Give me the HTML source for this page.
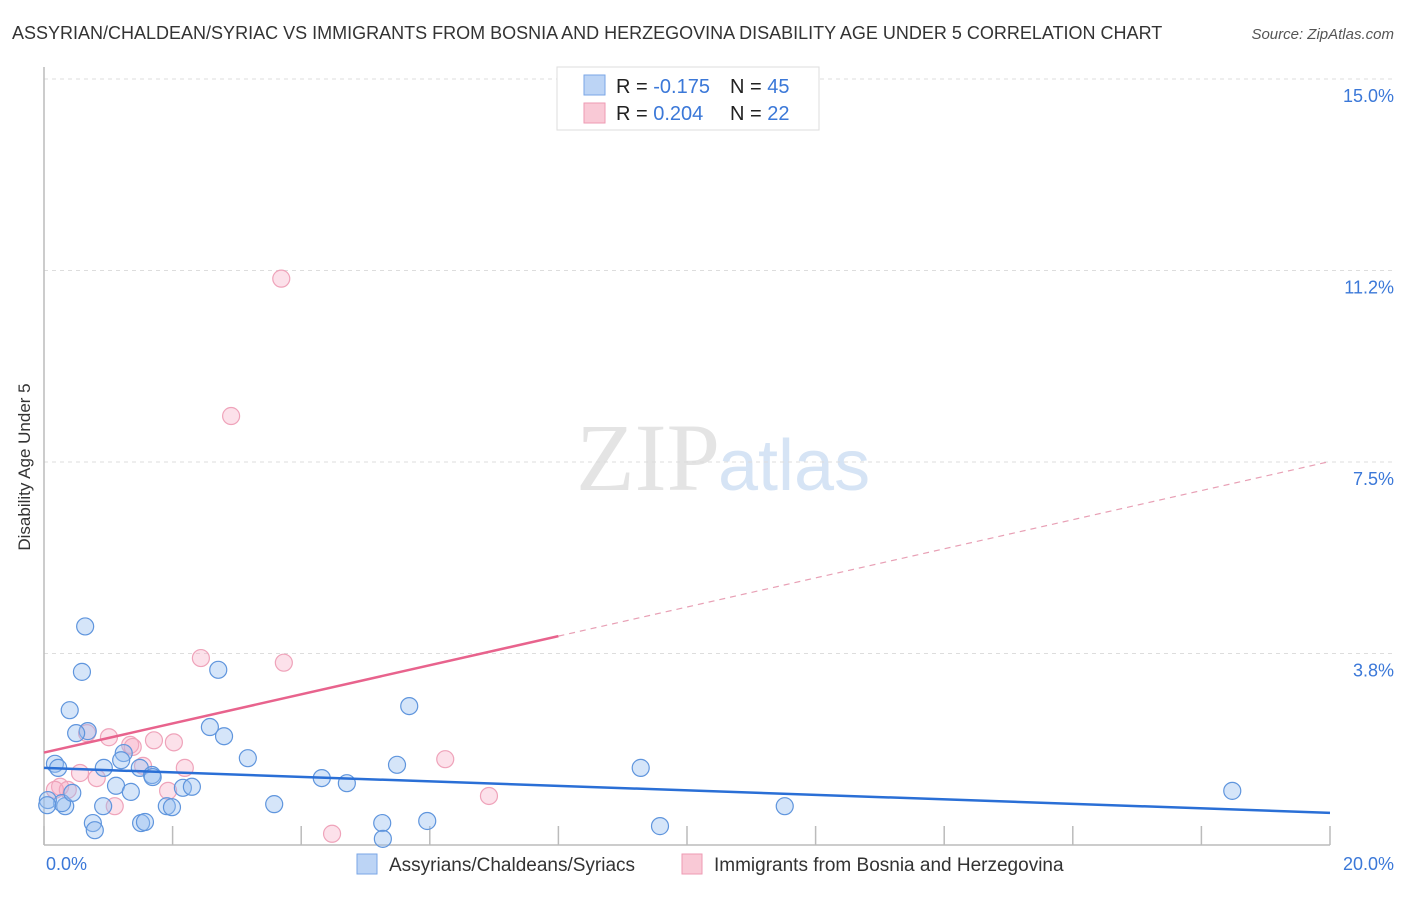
<!DOCTYPE html>
<html><head><meta charset="utf-8"><style>
body{margin:0;background:#fff;font-family:"Liberation Sans",sans-serif;}
</style></head><body>
<svg id="chart" width="1406" height="892" xmlns="http://www.w3.org/2000/svg" style="font-family:'Liberation Sans',sans-serif">
<text x="12" y="39" font-size="18" fill="#333">ASSYRIAN/CHALDEAN/SYRIAC VS IMMIGRANTS FROM BOSNIA AND HERZEGOVINA DISABILITY AGE UNDER 5 CORRELATION CHART</text>
<text x="1394" y="39" font-size="15" fill="#555" font-style="italic" text-anchor="end">Source: ZipAtlas.com</text>
<text x="720" y="490" font-size="96" fill="#e4e4e4" text-anchor="end" font-family="Liberation Serif,serif">ZIP</text>
<text x="718" y="490" font-size="72" fill="#d6e4f5">atlas</text>
<g id="grid"></g>
<line x1="44" y1="67" x2="44" y2="845" stroke="#bbb" stroke-width="1.5"/>
<line x1="44" y1="845" x2="1330" y2="845" stroke="#bbb" stroke-width="1.5"/>
<g id="xticks"></g>
<g id="pts"></g>
<g id="lines"></g>
<text x="18" y="455" font-size="17" fill="#333" text-anchor="middle" transform="rotate(-90 30 455)">Disability Age Under 5</text>
<text x="46" y="870" font-size="18" fill="#3b78d8">0.0%</text>
<text x="1394" y="870" font-size="18" fill="#3b78d8" text-anchor="end">20.0%</text>
<g>
<rect x="557" y="67" width="262" height="63" fill="#fff" stroke="#ddd"/>
<rect x="584" y="75" width="21" height="20" fill="#bcd4f5" stroke="#7aa6e6"/>
<rect x="584" y="103" width="21" height="20" fill="#f9c9d6" stroke="#ee9ab3"/>
<text x="616" y="93" font-size="20" fill="#222">R = <tspan fill="#3b78d8">-0.175</tspan></text>
<text x="730" y="93" font-size="20" fill="#222">N = <tspan fill="#3b78d8">45</tspan></text>
<text x="616" y="120" font-size="20" fill="#222">R = <tspan fill="#3b78d8"> 0.204</tspan></text>
<text x="730" y="120" font-size="20" fill="#222">N = <tspan fill="#3b78d8"> 22</tspan></text>
</g>
<g>
<rect x="357" y="854" width="20" height="20" fill="#bcd4f5" stroke="#7aa6e6"/>
<text x="389" y="871" font-size="19" fill="#333">Assyrians/Chaldeans/Syriacs</text>
<rect x="682" y="854" width="20" height="20" fill="#f9c9d6" stroke="#ee9ab3"/>
<text x="714" y="871" font-size="19" fill="#333">Immigrants from Bosnia and Herzegovina</text>
</g>
</svg>
<script>
const yTicks=[3.8,7.5,11.2,15.0];
const yTickVals=[3.75,7.5,11.25,15];
const xTickVals=[0,2,4,6,8,10,12,14,16,18,20];
const blueX=[0.64,0.59,0.40,0.68,0.50,0.17,0.22,0.33,0.28,0.44,0.06,0.93,1.12,1.24,1.20,1.35,0.92,0.76,0.79,1.49,1.68,1.69,1.51,1.57,1.91,1.99,2.16,2.30,2.71,2.58,2.80,3.17,3.58,4.32,4.71,5.26,5.27,5.49,5.68,5.96,9.28,9.58,11.52,18.48,0.05];
const blueY=[4.28,3.39,2.64,2.23,2.19,1.59,1.51,0.76,0.82,1.02,0.88,1.51,1.16,1.80,1.66,1.04,0.76,0.43,0.29,1.51,1.37,1.33,0.43,0.45,0.76,0.74,1.12,1.14,3.43,2.31,2.13,1.70,0.80,1.31,1.21,0.43,0.12,1.57,2.72,0.47,1.51,0.37,0.76,1.06,0.78];
const pinkX=[3.69,2.91,2.44,3.73,6.24,6.92,4.48,0.67,1.01,1.34,1.38,1.71,2.02,2.19,1.54,0.56,0.82,0.25,0.37,0.17,1.10,1.93];
const pinkY=[11.09,8.40,3.66,3.57,1.68,0.96,0.22,2.19,2.11,1.96,1.92,2.05,2.01,1.51,1.55,1.41,1.31,1.14,1.08,1.08,0.76,1.06];
const blueFit=[1.51,0.63];
const pinkFit=[1.81,7.51];
const X=v=>44+v*64.3, Y=v=>845-v*51.07;
const NS='http://www.w3.org/2000/svg';
function mk(t,a,p){const e=document.createElementNS(NS,t);for(const k in a)e.setAttribute(k,a[k]);p.appendChild(e);return e;}
const grid=document.getElementById('grid');
yTickVals.forEach((v,i)=>{
 const l=mk('line',{x1:44,x2:1394,y1:Y(v),y2:Y(v),stroke:'#ddd','stroke-dasharray':'4,4'},grid);
 
 
 const t=mk('text',{x:1394,y:Y(v)+23,'font-size':18,fill:'#3b78d8','text-anchor':'end'},grid);
 t.textContent=yTicks[i].toFixed(1)+'%';
 
 
});
const xt=document.getElementById('xticks');
xTickVals.forEach(v=>{
 const l=mk('line',{x1:X(v),x2:X(v),y1:826,y2:845,stroke:'#bbb','stroke-width':1.5},xt);
 
 
});
const pts=document.getElementById('pts');
pinkX.forEach((x,i)=>{
 const c=mk('circle',{cx:X(x),cy:Y(pinkY[i]),r:8.5,fill:'rgba(246,170,194,0.35)',stroke:'#efa3ba','stroke-width':1.2},pts);
 
 
});
blueX.forEach((x,i)=>{
 const c=mk('circle',{cx:X(x),cy:Y(blueY[i]),r:8.5,fill:'rgba(150,190,240,0.4)',stroke:'#5f95dd','stroke-width':1.2},pts);
 
 
});
const ln=document.getElementById('lines');
const pf=x=>pinkFit[0]+(pinkFit[1]-pinkFit[0])*x/20;
let a=mk('line',{x1:X(0),y1:Y(blueFit[0]),x2:X(20),y2:Y(blueFit[1]),stroke:'#2a6fd6','stroke-width':2.5},ln);


let b=mk('line',{x1:X(0),y1:Y(pf(0)),x2:X(8),y2:Y(pf(8)),stroke:'#e8638d','stroke-width':2.5},ln);


let c=mk('line',{x1:X(8),y1:Y(pf(8)),x2:X(20),y2:Y(pf(20)),stroke:'#e8a0b5','stroke-width':1.2,'stroke-dasharray':'6,5'},ln);


</script>
</body></html>
